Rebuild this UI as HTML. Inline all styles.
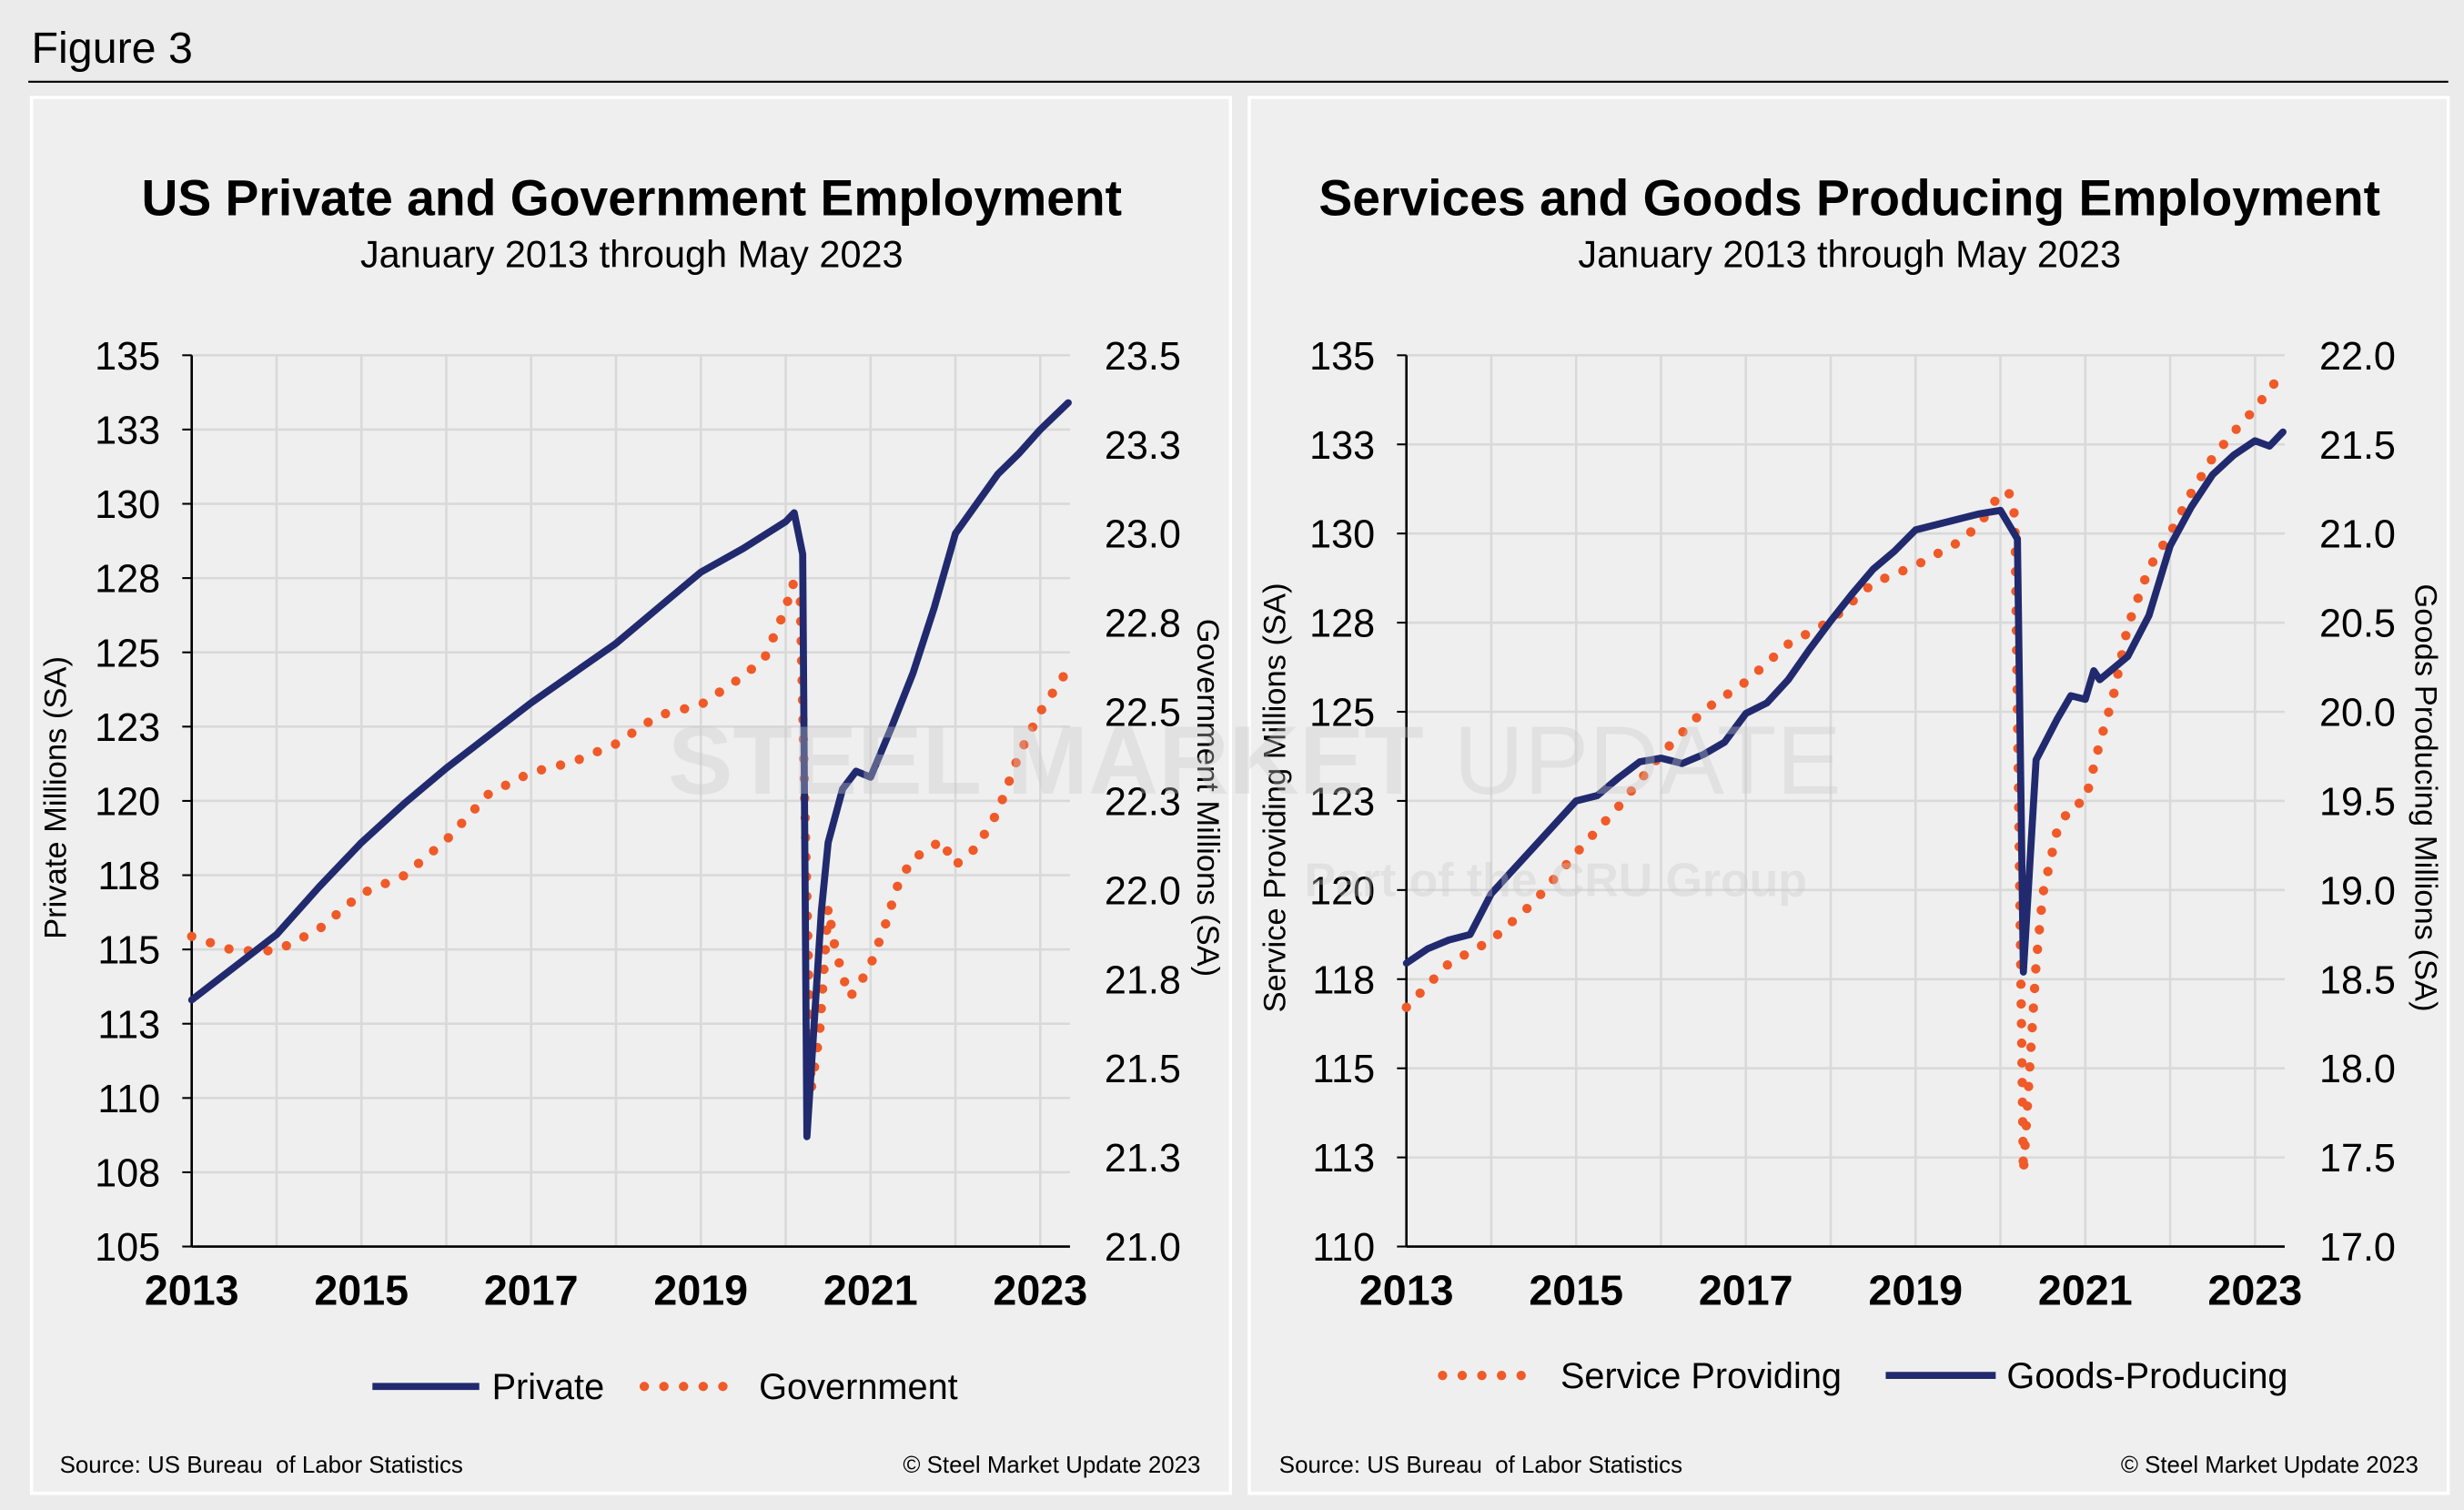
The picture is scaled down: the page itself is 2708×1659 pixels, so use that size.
<!DOCTYPE html>
<html><head><meta charset="utf-8"><style>
html,body{margin:0;padding:0;background:#ebebeb;}
svg{display:block;font-family:"Liberation Sans",Arial,sans-serif;}
text{white-space:pre;}
</style></head><body>
<svg id="fig" width="2708" height="1659" viewBox="0 0 1568 960.6" xmlns="http://www.w3.org/2000/svg">
<rect x="0" y="0" width="1568" height="961" fill="#ebebeb"/>
<text x="20" y="40" font-size="28" fill="#000">Figure 3</text>
<line x1="18" y1="52" x2="1558" y2="52" stroke="#000" stroke-width="1.2"/>
<rect x="20" y="62" width="763" height="888" fill="#efefef" stroke="#fff" stroke-width="2"/>
<rect x="795" y="62" width="763" height="888" fill="#efefef" stroke="#fff" stroke-width="2"/>
<g id="L"></g><g id="R"></g>
<g opacity="0.35">
<text x="425" y="505" font-size="62" font-weight="bold" fill="#c8c8c8">STEEL MARKET</text>
<text x="925" y="505" font-size="62" fill="#c8c8c8">UPDATE</text>
<text x="830" y="570" font-size="30" font-weight="bold" fill="#c8c8c8">Part of the CRU Group</text>
</g>
</svg>
<script>
// Left chart data (decimal years)
const privX=[2013.0,2013.5,2014.0,2014.5,2015.0,2015.5,2016.0,2016.5,2017.0,2017.5,2018.0,2018.5,2019.0,2019.5,2020.0,2020.1,2020.2,2020.25,2020.42,2020.5,2020.67,2020.83,2021.0,2021.25,2021.5,2021.75,2022.0,2022.25,2022.5,2022.75,2023.0,2023.33];
const privV=[113.3,114.4,115.5,117.1,118.6,119.9,121.1,122.2,123.3,124.3,125.3,126.5,127.7,128.5,129.4,129.7,128.3,108.7,116.3,118.6,120.4,121.0,120.8,122.5,124.3,126.5,129.0,130.0,131.0,131.7,132.5,133.4];
const govX=[2013.0,2013.5,2014.0,2014.5,2015.0,2015.5,2016.0,2016.5,2017.0,2017.5,2018.0,2018.5,2019.0,2019.5,2019.75,2020.0,2020.08,2020.17,2020.3,2020.4,2020.5,2020.58,2020.67,2020.75,2020.83,2021.0,2021.17,2021.33,2021.5,2021.67,2021.83,2022.0,2022.25,2022.5,2022.75,2023.0,2023.33];
const govV=[21.87,21.83,21.83,21.89,21.99,22.04,22.14,22.27,22.33,22.36,22.41,22.49,22.52,22.60,22.65,22.79,22.86,22.83,21.44,21.60,21.95,21.84,21.76,21.70,21.72,21.79,21.90,22.02,22.09,22.11,22.14,22.07,22.12,22.22,22.38,22.50,22.62];
const leftTicks=["135","133","130","128","125","123","120","118","115","113","110","108","105"];
const govTicks=["23.5","23.3","23.0","22.8","22.5","22.3","22.0","21.8","21.5","21.3","21.0"];
// Right chart data
const svcX=[2013.0,2013.5,2014.0,2014.5,2015.0,2015.5,2016.0,2016.5,2017.0,2017.5,2018.0,2018.5,2019.0,2019.5,2019.75,2020.0,2020.1,2020.17,2020.27,2020.42,2020.5,2020.67,2020.83,2021.0,2021.17,2021.33,2021.5,2021.75,2022.0,2022.25,2022.5,2022.75,2023.0,2023.33];
const svcV=[116.71,117.94,118.59,119.65,121.03,122.34,123.80,125.03,125.84,126.90,127.55,128.61,129.10,129.75,130.24,131.14,131.14,130.49,112.07,117.94,119.90,121.69,122.34,122.50,124.13,125.43,127.39,129.02,130.00,131.14,132.12,132.85,133.50,134.53];
const goodsX=[2013.0,2013.25,2013.5,2013.75,2014.0,2014.5,2015.0,2015.25,2015.5,2015.75,2016.0,2016.25,2016.5,2016.75,2017.0,2017.25,2017.5,2017.75,2018.0,2018.25,2018.5,2018.75,2019.0,2019.25,2019.5,2019.75,2020.0,2020.1,2020.2,2020.27,2020.42,2020.67,2020.83,2021.0,2021.1,2021.17,2021.5,2021.75,2022.0,2022.25,2022.5,2022.75,2023.0,2023.17,2023.33];
const goodsV=[18.59,18.67,18.72,18.75,18.98,19.24,19.50,19.53,19.63,19.72,19.74,19.71,19.76,19.83,19.99,20.05,20.18,20.35,20.51,20.66,20.80,20.90,21.02,21.05,21.08,21.11,21.13,21.05,20.97,18.54,19.73,19.96,20.09,20.07,20.23,20.18,20.31,20.54,20.93,21.15,21.33,21.44,21.52,21.49,21.57];
const svcTicks=["135","133","130","128","125","123","120","118","115","113","110"];
const goodsTicks=["22.0","21.5","21.0","20.5","20.0","19.5","19.0","18.5","18.0","17.5","17.0"];
const yearLabels=["2013","2015","2017","2019","2021","2023"];

const NS="http://www.w3.org/2000/svg";
function mk(parent,tag,attrs,text){const e=document.createElementNS(NS,tag);for(const k in attrs)e.setAttribute(k,attrs[k]);if(text!==undefined)e.textContent=text;parent.appendChild(e);return e;}

function chart(g,o){
  const top=226,bot=793,x0=o.x0,ppy=54;
  const X=t=>x0+(t-2013)*ppy;
  const YL=v=>bot-(v-o.lmin)/(o.lmax-o.lmin)*(bot-top);
  const YR=v=>bot-(v-o.rmin)/(o.rmax-o.rmin)*(bot-top);
  const xr=X(2023.35);
  let t=mk(g,'text',{x:o.cx,y:137,'font-size':32,'font-weight':'bold','text-anchor':'middle'},o.title);
  
  
  t=mk(g,'text',{x:o.cx,y:170,'font-size':24,'text-anchor':'middle'},'January 2013 through May 2023');
  
  
  for(let y=2013;y<=2023;y++){
    const l=mk(g,'line',{x1:X(y),x2:X(y),y1:top,y2:bot,stroke:'#d9d9d9','stroke-width':1.5});
    
    
  }
  const n=o.lt.length;
  for(let i=0;i<n;i++){
    const y=top+i*(bot-top)/(n-1);
    const l=mk(g,'line',{x1:x0,x2:xr,y1:y,y2:y,stroke:'#d9d9d9','stroke-width':1.5});
    
    
    const tk=mk(g,'line',{x1:x0-6,x2:x0,y1:y,y2:y,stroke:'#000','stroke-width':1.2});
    
    
    const lb=mk(g,'text',{x:x0-20,y:y+9,'font-size':25,'text-anchor':'end'},o.lt[i]);
    
    
  }
  const m=o.rt.length;
  for(let i=0;i<m;i++){
    const y=top+i*(bot-top)/(m-1);
    const lb=mk(g,'text',{x:xr+22,y:y+9,'font-size':25},o.rt[i]);
    
    
  }
  yearLabels.forEach(yl=>{
    const lb=mk(g,'text',{x:X(+yl),y:830,'font-size':27,'font-weight':'bold','text-anchor':'middle'},yl);
    
    
  });
  let a=mk(g,'line',{x1:x0,x2:x0,y1:top,y2:bot,stroke:'#000','stroke-width':1.5});
  
  
  a=mk(g,'line',{x1:x0,x2:xr,y1:bot,y2:bot,stroke:'#000','stroke-width':1.5});
  
  
  let at=mk(g,'text',{x:0,y:0,'font-size':20,'text-anchor':'middle',transform:`translate(${o.ltx},${(top+bot)/2-2}) rotate(-90)`},o.ltitle);
  
  
  at=mk(g,'text',{x:0,y:0,'font-size':20,'text-anchor':'middle',transform:`translate(${o.rtx},${(top+bot)/2-2}) rotate(90)`},o.rtitle);
  
  
  o.series.forEach(s=>{
    const Y=s.axis==='L'?YL:YR;
    const d=s.x.map((xv,i)=>(i?'L':'M')+X(xv).toFixed(1)+','+Y(s.v[i]).toFixed(1)).join(' ');
    const attrs=s.dot?{d,fill:'none',stroke:'#f05a28','stroke-width':6,'stroke-linecap':'round','stroke-dasharray':'0 12.5','stroke-linejoin':'round'}
                     :{d,fill:'none',stroke:'#212a6e','stroke-width':4.5,'stroke-linejoin':'round','stroke-linecap':'round'};
    const p=mk(g,'path',attrs);
    
    
  });
  o.legend.forEach(L=>{
    const lg=mk(g,'g',{});
    
    
    if(L.dot) mk(lg,'line',{x1:L.x1,x2:L.x2,y1:o.ly,y2:o.ly,stroke:'#f05a28','stroke-width':6,'stroke-linecap':'round','stroke-dasharray':'0 12.5'});
    else mk(lg,'line',{x1:L.x1,x2:L.x2,y1:o.ly,y2:o.ly,stroke:'#212a6e','stroke-width':4.5});
    mk(lg,'text',{x:L.tx,y:o.ly+8,'font-size':23},L.label);
  });
  let s=mk(g,'text',{x:o.srcx,y:937,'font-size':15},'Source: US Bureau  of Labor Statistics');
  
  
  s=mk(g,'text',{x:o.cpx,y:937,'font-size':15,'text-anchor':'end'},'© Steel Market Update 2023');
  
  
}
chart(document.getElementById('L'),{x0:122,cx:402,title:'US Private and Government Employment',
  lmin:105,lmax:135,rmin:21,rmax:23.5,lt:leftTicks,rt:govTicks,ltx:42,rtx:762,
  ltitle:'Private Millions (SA)',rtitle:'Government Millions (SA)',
  series:[{x:govX,v:govV,axis:'R',dot:true,name:'government-series'},{x:privX,v:privV,axis:'L',dot:false,name:'private-series'}],
  ly:882,legend:[{x1:237,x2:305,tx:313,label:'Private'},{dot:true,x1:410,x2:468,tx:483,label:'Government'}],
  srcx:38,cpx:764});
chart(document.getElementById('R'),{x0:895,cx:1177,title:'Services and Goods Producing Employment',
  lmin:110,lmax:135,rmin:17,rmax:22,lt:svcTicks,rt:goodsTicks,ltx:818,rtx:1537,
  ltitle:'Service Providing Millions (SA)',rtitle:'Goods Producing Millions (SA)',
  series:[{x:svcX,v:svcV,axis:'L',dot:true,name:'service-providing-series'},{x:goodsX,v:goodsV,axis:'R',dot:false,name:'goods-producing-series'}],
  ly:875,legend:[{dot:true,x1:918,x2:980,tx:993,label:'Service Providing'},{x1:1200,x2:1270,tx:1277,label:'Goods-Producing'}],
  srcx:814,cpx:1539});
</script>
</body></html>
